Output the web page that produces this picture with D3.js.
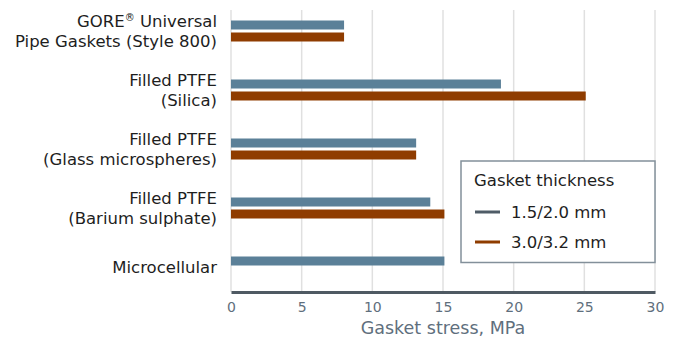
<!DOCTYPE html>
<html>
<head>
<meta charset="utf-8">
<script src="https://cdn.jsdelivr.net/npm/d3@7"></script>
<style>
  body { margin: 0; background: #fff; }
  svg { display: block; font-family: "DejaVu Sans", sans-serif; }
</style>
</head>
<body>
<div id="chart"></div>
<script>
// data
const categories = ['gore', 'silica', 'glass', 'barium', 'micro'];
const categoryLabels = [
    ['GORE\u00AE Universal', 'Pipe Gaskets (Style 800)'],
    ['Filled PTFE', '(Silica)'],
    ['Filled PTFE', '(Glass microspheres)'],
    ['Filled PTFE', '(Barium sulphate)'],
    ['Microcellular']
];
const seriesNames = ['1.5/2.0 mm', '3.0/3.2 mm'];
const thin = [8.0, 19.1, 13.1, 14.1, 15.1];
const thick = [8.0, 25.1, 13.1, 15.1, null];
const xTicks = [0, 5, 10, 15, 20, 25, 30];

const width = 678, height = 338;
const barColors = ['#5b8098', '#8f3c00'];
const swatchColors = ['#4f5c67', '#8f3c00'];

const svg = d3.select('#chart').append('svg')
    .attr('width', width)
    .attr('height', height);

const x = d3.scaleLinear().domain([0, 30]).range([231, 655]);

// group band + inner band for the two thicknesses
const y0 = d3.scaleBand()
    .domain(categories)
    .range([1.5, 296.5])
    .paddingInner(38 / 59)
    .paddingOuter(19 / 59);

const y1 = d3.scaleBand()
    .domain(seriesNames)
    .range([0, y0.bandwidth()])
    .paddingInner(0.25);

const axisY = 292;

// gridlines
svg.append('g')
    .selectAll('line')
    .data(xTicks)
    .join('line')
    .attr('x1', d => x(d))
    .attr('x2', d => x(d))
    .attr('y1', 10)
    .attr('y2', axisY)
    .attr('stroke', '#e0e0e0')
    .attr('stroke-width', 1.5);

// bars
const rows = categories.map((c, i) => ({ cat: c, values: [thin[i], thick[i]] }));

const groups = svg.append('g')
    .selectAll('g')
    .data(rows)
    .join('g')
    .attr('transform', d => `translate(0,${y0(d.cat)})`);

groups.selectAll('rect')
    .data(d => d.values.map((v, j) => ({ v, s: seriesNames[j], j })).filter(e => e.v != null))
    .join('rect')
    .attr('x', x(0))
    .attr('y', d => y1(d.s))
    .attr('width', d => x(d.v) - x(0))
    .attr('height', y1.bandwidth())
    .attr('fill', d => barColors[d.j]);

// category labels
const labels = svg.append('g')
    .selectAll('text')
    .data(rows.map((d, i) => ({ cat: d.cat, lines: categoryLabels[i] })))
    .join('text')
    .attr('text-anchor', 'end')
    .attr('fill', '#1e1e1e')
    .style('font-size', '16.5px');

labels.each(function(d) {
    const t = d3.select(this);
    const cy = y0(d.cat) + y0.bandwidth() / 2;
    const n = d.lines.length;
    d.lines.forEach((line, k) => {
        const ts = t.append('tspan')
            .attr('x', 217)
            .attr('y', cy + 5.5 + (k - (n - 1) / 2) * 20);
        if (line.includes('\u00AE')) {
            const parts = line.split('\u00AE');
            ts.text(parts[0]);
            ts.append('tspan').attr('dy', -6).style('font-size', '10px').text('\u00AE');
            ts.append('tspan').attr('dy', 6).text(parts[1]);
        } else {
            ts.text(line);
        }
    });
});

// x axis
const xAxis = svg.append('g')
    .attr('transform', `translate(0,${axisY})`)
    .call(d3.axisBottom(x).tickValues(xTicks).tickSize(0).tickPadding(10.5));

xAxis.select('.domain')
    .attr('stroke', '#4f5a63')
    .attr('stroke-width', 3);

xAxis.selectAll('text')
    .attr('fill', '#5f6f7d')
    .style('font-size', '14px')
    .style('font-family', '"DejaVu Sans", sans-serif');

svg.append('text')
    .attr('x', x(15))
    .attr('y', 334)
    .attr('text-anchor', 'middle')
    .attr('fill', '#5f6f7d')
    .style('font-size', '17.5px')
    .text('Gasket stress, MPa');

// legend
const legend = svg.append('g').attr('transform', 'translate(461,161)');

legend.append('rect')
    .attr('width', 194)
    .attr('height', 101.5)
    .attr('fill', '#fff')
    .attr('stroke', '#83909a')
    .attr('stroke-width', 1.5);

legend.append('text')
    .attr('x', 13)
    .attr('y', 25)
    .attr('fill', '#1e1e1e')
    .style('font-size', '16.5px')
    .text('Gasket thickness');

const items = legend.selectAll('.item')
    .data(seriesNames)
    .join('g')
    .attr('class', 'item')
    .attr('transform', (d, i) => `translate(0,${51 + i * 30})`);

items.append('line')
    .attr('x1', 14)
    .attr('x2', 39)
    .attr('stroke', (d, i) => swatchColors[i])
    .attr('stroke-width', 3);

items.append('text')
    .attr('x', 50)
    .attr('y', 5.5)
    .attr('fill', '#1e1e1e')
    .style('font-size', '16.5px')
    .text(d => d);
</script>
</body>
</html>
